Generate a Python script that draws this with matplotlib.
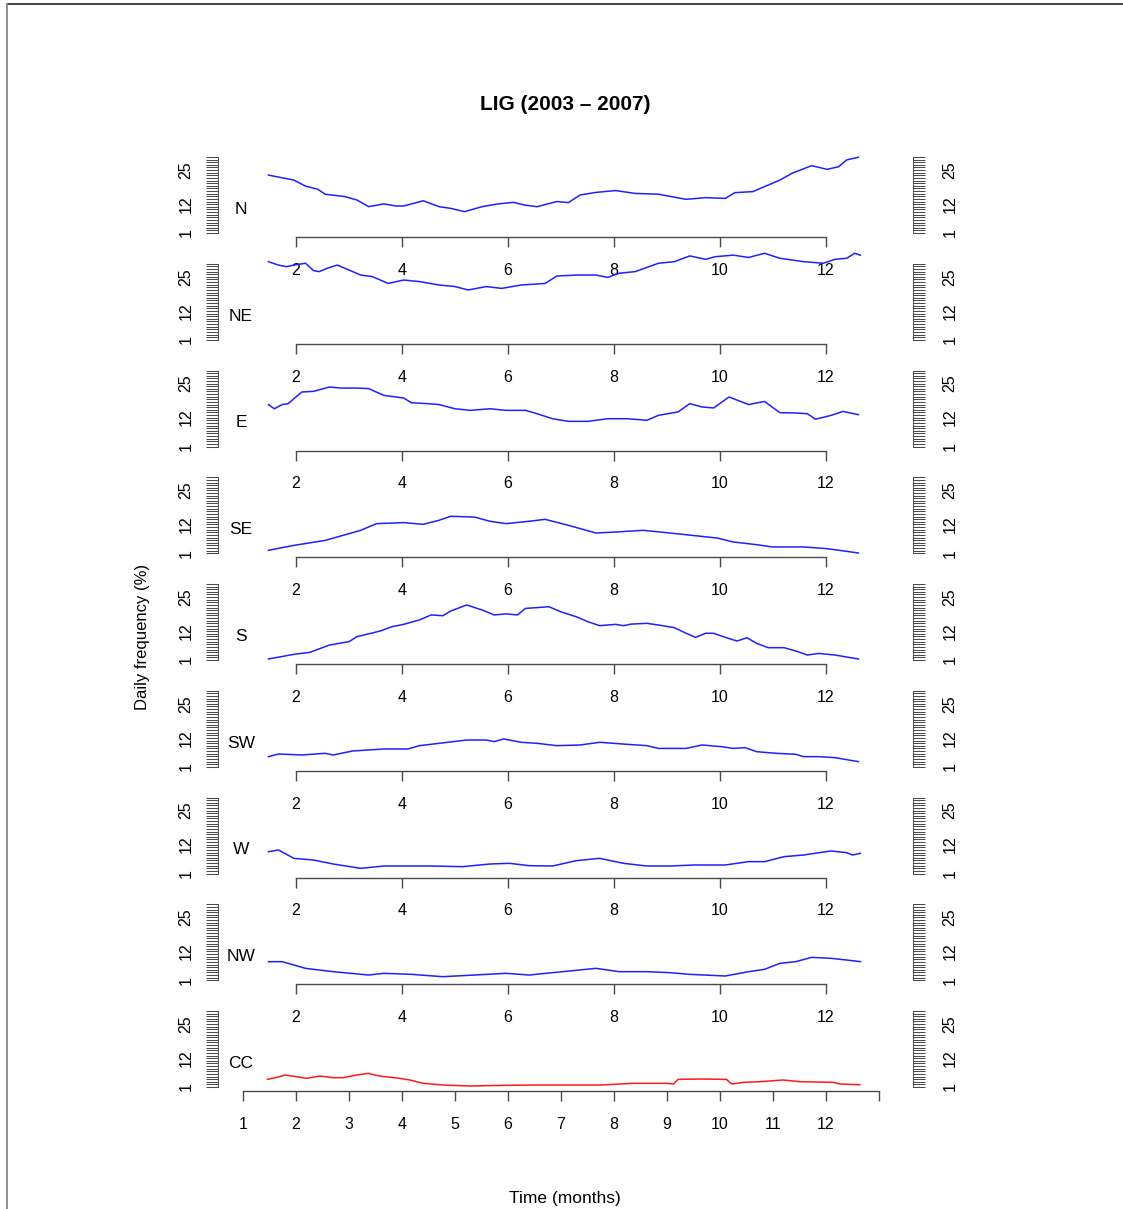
import matplotlib
matplotlib.use('Agg')
import matplotlib.pyplot as plt
from matplotlib.lines import Line2D

plt.rcParams['font.family'] = ['Liberation Sans', 'DejaVu Sans']

# ---------------- data ----------------
directions = ['N', 'NE', 'E', 'SE', 'S', 'SW', 'W', 'NW', 'CC']

N_month = [1.48, 1.96, 2.18, 2.41, 2.55, 2.92, 3.15, 3.37, 3.66, 3.89, 4.03, 4.40, 4.70, 4.92, 5.18, 5.51, 5.81, 6.10, 6.33, 6.55,
           6.92, 7.14, 7.36, 7.66, 8.03, 8.40, 8.84, 9.36, 9.73, 10.10, 10.28, 10.62, 10.91, 11.13, 11.36, 11.73, 12.02, 12.24, 12.39, 12.61]
N_val = [23.1, 21.2, 18.9, 17.7, 15.8, 14.9, 13.6, 11.05, 12.1, 11.3, 11.3, 13.3, 11.05, 10.4, 9.15, 11.05, 12.1, 12.7, 11.6, 11.05,
         13.0, 12.6, 15.5, 16.5, 17.2, 16.1, 15.8, 13.85, 14.5, 14.2, 16.4, 16.8, 19.3, 21.2, 23.8, 26.7, 25.3, 26.3, 28.9, 29.9]

NE_month = [1.48, 1.67, 1.82, 1.96, 2.18, 2.33, 2.44, 2.59, 2.78, 2.92, 3.22, 3.44, 3.74, 4.03, 4.33, 4.70, 5.00, 5.25, 5.59, 5.88,
            6.25, 6.70, 6.92, 7.29, 7.66, 7.88, 8.10, 8.40, 8.84, 9.14, 9.43, 9.73, 9.91, 10.25, 10.54, 10.84, 11.13, 11.58, 11.95, 12.17,
            12.39, 12.54, 12.65]
NE_val = [30.8, 29.5, 28.9, 29.5, 30.2, 27.4, 27.0, 28.3, 29.5, 28.3, 25.7, 25.1, 22.5, 23.8, 23.2, 21.9, 21.3, 20.0, 21.3, 20.6,
          21.9, 22.5, 25.3, 25.7, 25.7, 24.8, 26.4, 27.0, 30.2, 30.8, 33.0, 31.7, 32.7, 33.3, 32.4, 34.0, 32.1, 30.8, 30.2, 31.7,
          32.1, 34.0, 33.3]

E_month = [1.48, 1.59, 1.74, 1.85, 2.11, 2.33, 2.63, 2.85, 3.15, 3.37, 3.66, 4.03, 4.18, 4.48, 4.70, 5.00, 5.29, 5.66, 5.96, 6.33,
           6.55, 6.84, 7.14, 7.51, 7.88, 8.25, 8.62, 8.84, 9.21, 9.43, 9.66, 9.88, 10.17, 10.54, 10.84, 11.13, 11.43, 11.65, 11.80, 12.10,
           12.32, 12.61]
E_val = [17.0, 15.4, 17.0, 17.35, 21.8, 22.05, 23.7, 23.3, 23.3, 23.1, 20.5, 19.5, 17.7, 17.35, 17.0, 15.4, 14.8, 15.4, 14.8, 14.8,
         13.5, 11.6, 10.6, 10.6, 11.6, 11.6, 11.0, 12.9, 14.2, 17.35, 16.1, 15.7, 19.9, 17.0, 18.2, 13.9, 13.8, 13.5, 11.4, 12.9,
         14.4, 13.15]

SE_month = [1.48, 1.96, 2.55, 3.22, 3.52, 4.03, 4.40, 4.70, 4.92, 5.37, 5.66, 5.96, 6.40, 6.70, 7.14, 7.66, 8.03, 8.55, 8.99, 9.58,
            9.95, 10.25, 10.69, 10.99, 11.58, 12.02, 12.39, 12.61]
SE_val = [2.12, 4.0, 5.9, 9.75, 12.3, 12.7, 12.04, 13.6, 15.1, 14.8, 13.2, 12.3, 13.2, 13.95, 11.66, 8.73, 9.1, 9.75, 8.86, 7.6,
          6.8, 5.3, 4.28, 3.4, 3.4, 2.75, 1.73, 1.1]

S_month = [1.48, 1.96, 2.26, 2.63, 3.00, 3.15, 3.59, 3.81, 4.03, 4.33, 4.55, 4.77, 4.92, 5.22, 5.51, 5.74, 5.96, 6.18, 6.33, 6.55,
           6.77, 6.99, 7.29, 7.51, 7.73, 8.03, 8.18, 8.32, 8.62, 8.84, 9.14, 9.36, 9.54, 9.73, 9.88, 10.10, 10.32, 10.51, 10.69, 10.91,
           11.21, 11.43, 11.65, 11.87, 12.17, 12.61]
S_val = [1.38, 3.16, 3.92, 6.7, 8.0, 9.9, 12.07, 13.7, 14.6, 16.3, 18.2, 17.9, 19.7, 22.0, 20.1, 18.2, 18.6, 18.2, 20.7, 21.0,
         21.35, 19.45, 17.5, 15.6, 14.1, 14.6, 14.1, 14.7, 15.0, 14.35, 13.34, 11.2, 9.65, 11.2, 11.2, 9.65, 8.25, 9.5, 7.36, 5.7,
         5.7, 4.43, 2.9, 3.5, 2.9, 1.38]

SW_month = [1.48, 1.67, 2.11, 2.55, 2.70, 3.07, 3.66, 4.11, 4.33, 4.70, 5.22, 5.59, 5.74, 5.92, 6.25, 6.55, 6.92, 7.36, 7.73, 8.25,
            8.62, 8.84, 9.36, 9.66, 10.03, 10.25, 10.47, 10.69, 11.06, 11.43, 11.58, 11.87, 12.17, 12.61]
SW_val = [4.85, 5.87, 5.49, 6.13, 5.49, 7.02, 7.78, 7.78, 9.05, 9.94, 11.2, 11.2, 10.6, 11.6, 10.33, 9.94, 9.05, 9.3, 10.33, 9.56,
          9.05, 8.0, 8.0, 9.3, 8.67, 8.0, 8.3, 6.76, 6.13, 5.75, 4.85, 4.85, 4.47, 2.95]

W_month = [1.48, 1.67, 1.96, 2.33, 2.70, 3.22, 3.66, 4.03, 4.55, 5.14, 5.66, 6.03, 6.40, 6.84, 7.29, 7.73, 8.18, 8.62, 9.06, 9.51,
           10.10, 10.54, 10.84, 11.21, 11.58, 11.87, 12.10, 12.39, 12.50, 12.65]
W_val = [9.33, 9.97, 6.79, 6.15, 4.63, 2.97, 3.86, 3.86, 3.86, 3.61, 4.63, 4.88, 3.99, 3.86, 5.9, 6.79, 4.88, 3.86, 3.86, 4.25,
         4.25, 5.52, 5.52, 7.43, 8.06, 8.95, 9.59, 8.95, 8.06, 8.7]

NW_month = [1.48, 1.74, 2.18, 2.70, 3.37, 3.66, 4.18, 4.77, 5.37, 5.96, 6.40, 6.84, 7.66, 8.10, 8.62, 9.06, 9.43, 10.10, 10.54, 10.84,
            11.13, 11.43, 11.73, 12.10, 12.39, 12.65]
NW_val = [8.09, 8.09, 5.54, 4.27, 3.0, 3.64, 3.25, 2.36, 3.0, 3.64, 3.0, 3.89, 5.54, 4.27, 4.27, 3.89, 3.25, 2.62, 4.27, 5.16,
          7.45, 8.09, 9.74, 9.36, 8.72, 8.09]

CC_month = [1.46, 1.64, 1.79, 2.01, 2.20, 2.45, 2.70, 2.89, 3.14, 3.36, 3.58, 3.96, 4.15, 4.40, 4.78, 5.28, 5.91, 6.54, 7.17,
            7.74, 8.37, 8.99, 9.12, 9.21, 9.62, 10.12, 10.22, 10.44, 10.75, 11.19, 11.51, 12.14, 12.26, 12.64]
CC_val = [3.92, 4.68, 5.57, 4.94, 4.3, 5.19, 4.56, 4.56, 5.57, 6.2, 5.19, 4.3, 3.67, 2.4, 1.76, 1.38, 1.63, 1.76, 1.76,
          1.76, 2.4, 2.4, 2.14, 3.92, 4.05, 3.92, 2.14, 2.78, 3.03, 3.67, 3.03, 2.78, 2.14, 1.88]

series_month = [N_month, NE_month, E_month, SE_month, S_month, SW_month, W_month, NW_month, CC_month]
series_val = [N_val, NE_val, E_val, SE_val, S_val, SW_val, W_val, NW_val, CC_val]

y_ticks = list(range(1, 31))
y_ticklabels = ['1', '12', '25']
x_ticks_top = [2, 4, 6, 8, 10, 12]
x_ticks_bottom = list(range(1, 14))
x_ticklabels_bottom = [str(v) for v in range(1, 13)] + ['']

title = 'LIG (2003 \u2013 2007)'
ylabel = 'Daily frequency (%)'
xlabel = 'Time (months)'

# ---------------- layout ----------------
W, H = 1123, 1209
fig = plt.figure(figsize=(W / 100, H / 100), dpi=100)
fig.patch.set_facecolor('white')

PXU = 2.62          # pixels per unit on y
BASE0 = 233         # pixel row of value 1 in the first panel
STEP = 106.75       # vertical distance between panels
LEFT_PX, RIGHT_PX = 218, 913
X_LEFT = 1 + (LEFT_PX - 243) / 53
X_RIGHT = 1 + (RIGHT_PX - 243) / 53
OFF = 4
V_HI = 36
TICKC = '#4a4a4a'
TICK_FS = 11.5

for k, name in enumerate(directions):
    base = BASE0 + STEP * k
    bottom_px = base + OFF
    top_px = base - (V_HI - 1) * PXU
    v_lo = 1 - OFF / PXU
    ax = fig.add_axes([LEFT_PX / W, 1 - bottom_px / H,
                       (RIGHT_PX - LEFT_PX) / W, (bottom_px - top_px) / H])
    ax.set_xlim(X_LEFT, X_RIGHT)
    ax.set_ylim(v_lo, V_HI)
    ax.patch.set_visible(False)

    color = '#ff1a1a' if name == 'CC' else '#1f1fff'
    ax.plot(series_month[k], series_val[k], color=color, lw=1.1, clip_on=False)
    ax.text(0.96, 10, name, ha='center', va='center', fontsize=12.5)

    for s in ['top', 'right']:
        ax.spines[s].set_visible(False)
    ax.spines['left'].set_bounds(1, 30)
    ax.spines['left'].set_color(TICKC)
    ax.spines['left'].set_linewidth(0.7)
    ax.spines['bottom'].set_color(TICKC)
    ax.spines['bottom'].set_linewidth(1.0)

    labs = [str(v) if str(v) in y_ticklabels else '' for v in y_ticks]
    ax.set_yticks(y_ticks)
    ax.set_yticklabels(labs, rotation=90, va='center')
    ax.tick_params(axis='y', length=8.6, width=0.75, color=TICKC, pad=9,
                   labelsize=TICK_FS, direction='out')

    ax2 = ax.twinx()
    ax2.set_ylim(v_lo, V_HI)
    ax2.patch.set_visible(False)
    for s in ['top', 'left', 'bottom']:
        ax2.spines[s].set_visible(False)
    ax2.spines['right'].set_bounds(1, 30)
    ax2.spines['right'].set_color(TICKC)
    ax2.spines['right'].set_linewidth(0.7)
    ax2.set_yticks(y_ticks)
    ax2.set_yticklabels(labs, rotation=90, va='center')
    ax2.tick_params(axis='y', length=8.6, width=0.75, color=TICKC, pad=12.5,
                    labelsize=TICK_FS, direction='out')

    if name == 'CC':
        ax.spines['bottom'].set_bounds(1, 13)
        ax.set_xticks(x_ticks_bottom)
        ax.set_xticklabels(x_ticklabels_bottom)
    else:
        ax.spines['bottom'].set_bounds(2, 12)
        ax.set_xticks(x_ticks_top)
        ax.set_xticklabels([str(v) for v in x_ticks_top])
    ax.tick_params(axis='x', length=7.2, width=1.0, color=TICKC, pad=11.5,
                   labelsize=TICK_FS, direction='out')

fig.text(565 / W, 1 - 105 / H, title, ha='center', va='center',
         fontsize=15, fontweight='bold')
fig.text(143 / W, 1 - 637 / H, ylabel, ha='center', va='center',
         rotation=90, fontsize=12)
fig.text(565 / W, 1 - 1198 / H, xlabel, ha='center', va='center', fontsize=12.5)

# frame edges of the original screenshot
fig.add_artist(Line2D([6.5 / W, 1], [1 - 4 / H, 1 - 4 / H], transform=fig.transFigure,
                      color='#222222', lw=1.2))
fig.add_artist(Line2D([6.5 / W, 6.5 / W], [0, 1 - 4 / H], transform=fig.transFigure,
                      color='#888888', lw=1.3))

fig.savefig('out.png', dpi=100)
